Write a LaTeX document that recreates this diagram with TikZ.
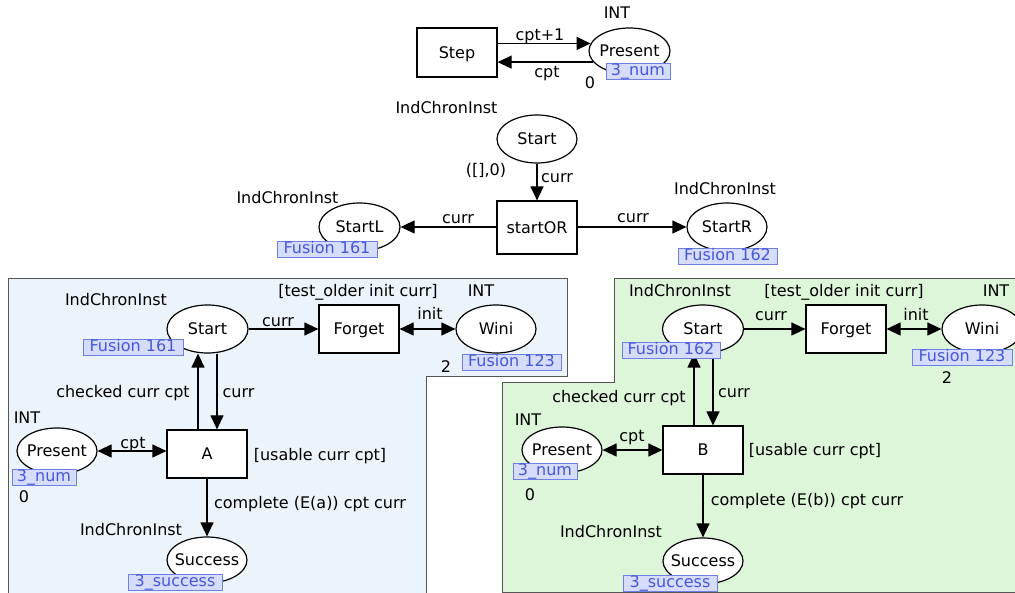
\documentclass[tikz,border=0pt]{standalone}
\usepackage{fontspec}
\setmainfont{DejaVu Sans}
\usetikzlibrary{arrows.meta,shapes.geometric}
\definecolor{panelblue}{HTML}{EBF4FB}
\definecolor{panelgreen}{HTML}{DDF5D9}
\definecolor{fusfill}{HTML}{D6DCFB}
\definecolor{fusdraw}{HTML}{6E80E6}
\definecolor{fustext}{HTML}{4658DA}
\definecolor{panelline}{HTML}{555555}
\begin{document}
\begin{tikzpicture}[x=1pt,y=-1pt,
  every node/.style={font=\fontsize{16}{19}\selectfont, inner sep=0pt, text height=11.5pt, text depth=0pt},
  place/.style={ellipse, draw, fill=white, line width=1.2pt, inner xsep=-12pt, minimum width=80pt, minimum height=47pt},
  trans/.style={rectangle, draw, fill=white, line width=1.2pt, minimum width=80pt, minimum height=48pt},
  fus/.style={draw=fusdraw, fill=fusfill, text=fustext, line width=0.9pt, text depth=3pt, minimum height=16pt},
  panel/.style={draw=panelline, line width=1pt},
  arr/.style={line width=1.2pt, -{Triangle[length=14pt,width=13pt]}},
  darr/.style={line width=1.2pt, {Triangle[length=14pt,width=13pt]}-{Triangle[length=14pt,width=13pt]}},
]
\useasboundingbox (0,0) rectangle (1015,593);
\fill[white] (0,0) rectangle (1015,593);

% ---------- panels ----------
\draw[panel, fill=panelblue] (8,279) -- (567,279) -- (567,377) -- (426,377) -- (426,600) -- (8,600) -- cycle;
\draw[panel, fill=panelgreen] (614,279) -- (1025,279) -- (1025,592) -- (502,592) -- (502,383) -- (614,383) -- cycle;

% ---------- top ----------
\node[trans, minimum height=49pt] (step) at (457,52.5) {Step};
\node[place, minimum width=81pt, minimum height=46pt] (pres0) at (629.5,51) {Present};
\node (int0) at (617,13) {INT};
\node (zero0) at (590,83) {0};
\draw[arr] (step.east |- pres0.169) -- (pres0.169);
\draw[arr] (pres0.197) -- (step.east |- pres0.197);
\node (cptp) at (540,35) {cpt+1};
\node (cpt0) at (547,72) {cpt};
\node[fus, minimum width=64pt] (num0) at (638,71) {3\_num};

% ---------- middle ----------
\node (ici1) at (446.5,108) {IndChronInst};
\node[place, minimum height=48pt] (start0) at (537,139) {Start};
\node (tok0) at (486,170) {([],0)};
\node[trans, minimum height=53pt] (startor) at (537,227.5) {startOR};
\draw[arr] (start0.south) -- (start0.south |- startor.north);
\node (curr0) at (557,177) {curr};
\node[place, minimum width=81pt, minimum height=48pt] (startL) at (359.5,227) {StartL};
\node (ici2) at (287.5,198) {IndChronInst};
\draw[arr] (startor.west |- startL.east) -- (startL.east);
\node (currL) at (458,218) {curr};
\node[place, minimum height=48pt] (startR) at (727,227) {StartR};
\node (ici3) at (725,189) {IndChronInst};
\draw[arr] (startor.east |- startR.west) -- (startR.west);
\node (currR) at (633,217) {curr};
\node[fus, minimum width=100pt] (f161a) at (327,249) {Fusion 161};
\node[fus, minimum width=99pt] (f162a) at (727.5,256.5) {Fusion 162};

% ---------- left panel ----------
\node (ici4) at (116,300) {IndChronInst};
\node[place, minimum width=81pt, minimum height=48pt] (s1) at (207.5,329) {Start};
\node[trans] (forget1) at (359,329) {Forget};
\node (tst1) at (358,291) {[test\_older init curr]};
\node (int1) at (481,291) {INT};
\node[place, minimum height=48pt] (wini1) at (496,329) {Wini};
\node (two1) at (446,367) {2};
\draw[arr] (s1.east) -- (forget1.west);
\node (currH1) at (278,321) {curr};
\draw[darr] (forget1.east) -- (wini1.west);
\node (init1) at (430,314) {init};
\node[trans] (A) at (207,454) {A};
\coordinate (s1up) at ([xshift=-9.5pt]s1.south);
\coordinate (s1dn) at ([xshift=9.5pt]s1.south);
\draw[arr] (s1up |- A.north) -- (s1up);
\draw[arr] (s1dn) -- (s1dn |- A.north);
\node (chk1) at (123,392) {checked curr cpt};
\node (currV1) at (238.5,392) {curr};
\node (int2) at (27,418) {INT};
\node[place, minimum height=46pt] (pres1) at (57,451) {Present};
\node (zero1) at (24,497) {0};
\draw[darr] (pres1.east) -- (pres1.east -| A.west);
\node (cpt1) at (133,443) {cpt};
\node (usable1) at (320,455) {[usable curr cpt]};
\node[place, minimum height=46pt] (succ1) at (207,560) {Success};
\draw[arr] (A.south) -- (succ1.north);
\node (cmp1) at (310,503) {complete (E(a)) cpt curr};
\node (ici5) at (131,530) {IndChronInst};
\node[fus, minimum width=100pt] (f161b) at (133,347) {Fusion 161};
\node[fus, minimum width=99pt] (f123a) at (511.5,362.5) {Fusion 123};
\node[fus, minimum width=64pt] (num1) at (44,477) {3\_num};
\node[fus, minimum width=94pt] (suc1) at (175,582) {3\_success};

% ---------- right panel ----------
\node (ici6) at (680,291) {IndChronInst};
\node[place, minimum width=81pt, minimum height=48pt] (s2) at (703,329) {Start};
\node[trans] (forget2) at (846,329) {Forget};
\node (tst2) at (844,291) {[test\_older init curr]};
\node (int3) at (996,291) {INT};
\node[place, minimum height=48pt] (wini2) at (982,329) {Wini};
\node (two2) at (947,378) {2};
\draw[arr] (s2.east) -- (forget2.west);
\node (currH2) at (771,315) {curr};
\draw[darr] (forget2.east) -- (wini2.west);
\node (init2) at (916,315) {init};
\node[trans] (B) at (703,450) {B};
\coordinate (s2up) at ([xshift=-9pt]s2.south);
\coordinate (s2dn) at ([xshift=10pt]s2.south);
\draw[arr] (s2up |- B.north) -- (s2up);
\draw[arr] (s2dn) -- (s2dn |- B.north);
\node (chk2) at (619,397) {checked curr cpt};
\node (currV2) at (734,392) {curr};
\node (int4) at (528,420) {INT};
\node[place, minimum height=46pt] (pres2) at (562,450) {Present};
\node (zero2) at (530,495) {0};
\draw[darr] (pres2.east) -- (pres2.east -| B.west);
\node (cpt2) at (632,436) {cpt};
\node (usable2) at (815,450) {[usable curr cpt]};
\node[place, minimum height=46pt] (succ2) at (703,561) {Success};
\draw[arr] (B.south) -- (succ2.north);
\node (cmp2) at (807,500) {complete (E(b)) cpt curr};
\node (ici7) at (611,532) {IndChronInst};
\node[fus, minimum width=98pt] (f162b) at (671,350) {Fusion 162};
\node[fus, minimum width=100pt] (f123b) at (962,357) {Fusion 123};
\node[fus, minimum width=64pt] (num2) at (545,471.5) {3\_num};
\node[fus, minimum width=94pt] (suc2) at (670,583) {3\_success};
\end{tikzpicture}
\end{document}
